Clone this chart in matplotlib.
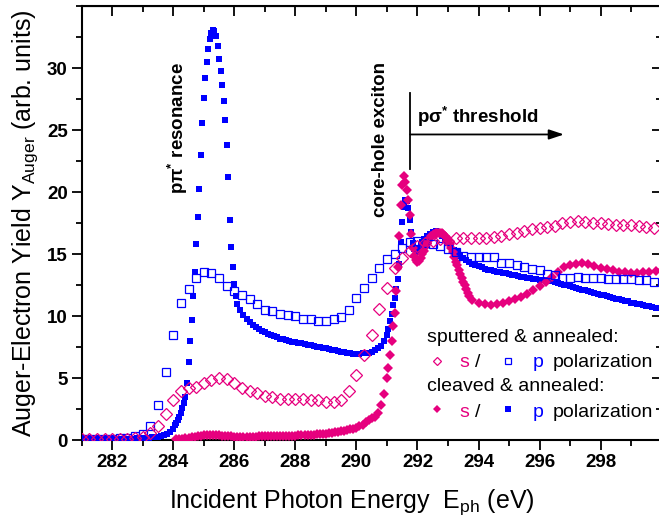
import numpy as np
import matplotlib
matplotlib.use('Agg')
import matplotlib.pyplot as plt
from matplotlib.ticker import MultipleLocator

plt.rcParams['font.family'] = ['Liberation Sans', 'DejaVu Sans']
plt.rcParams['mathtext.fontset'] = 'custom'
plt.rcParams['mathtext.rm'] = 'Liberation Sans'
plt.rcParams['mathtext.bf'] = 'Liberation Sans:bold'
plt.rcParams['mathtext.default'] = 'regular'

BLUE = '#0000FF'
PINK = '#E6007E'

x_ticks = [282, 284, 286, 288, 290, 292, 294, 296, 298]
y_ticks = [0, 5, 10, 15, 20, 25, 30]

# sputtered & annealed (open symbols), 0.25 eV grid
open_x = np.arange(281.0, 299.8, 0.25)
s_sputtered = [0.1, 0.1, 0.1, 0.1, 0.1, 0.1, 0.1, 0.15,
               0.25, 0.55, 1.1, 2.1, 3.2, 4.0, 4.2, 4.3,
               4.6, 4.85, 5.0, 4.9, 4.65, 4.2, 3.95, 3.8,
               3.55, 3.45, 3.3, 3.3, 3.3, 3.3, 3.25, 3.2,
               3.1, 3.1, 3.2, 4.0, 5.25, 6.9, 8.5, 10.6,
               12.3, 13.9, 14.7, 15.3, 15.7, 15.9, 16.1, 16.2,
               16.1, 16.3, 16.3, 16.3, 16.3, 16.3, 16.4, 16.5,
               16.6, 16.7, 16.9, 17.0, 17.1, 17.2, 17.3, 17.5,
               17.6, 17.65, 17.6, 17.5, 17.5, 17.45, 17.4, 17.4,
               17.4, 17.3, 17.2, 17.1]
p_sputtered = [0.1, 0.1, 0.1, 0.1, 0.12, 0.15, 0.2, 0.3,
               0.5, 1.1, 2.8, 5.5, 8.5, 11.1, 12.2, 13.1,
               13.6, 13.5, 13.1, 12.4, 12.05, 11.75, 11.35, 11.0,
               10.5, 10.4, 10.2, 10.1, 10.0, 9.75, 9.8, 9.6,
               9.6, 9.75, 9.95, 10.5, 11.5, 12.3, 13.05, 13.9,
               14.6, 15.0, 15.5, 16.0, 16.1, 15.95, 15.8, 15.65,
               15.4, 15.2, 14.9, 14.8, 14.75, 14.75, 14.75, 14.3,
               14.3, 14.1, 13.95, 13.85, 13.7, 13.4, 13.35, 13.1,
               13.1, 13.2, 13.1, 13.05, 13.05, 13.0, 13.0, 13.0,
               13.0, 12.95, 12.9, 12.8]

# cleaved & annealed, p polarization (filled squares)
p_cleaved_x = np.concatenate([np.arange(281.0, 284.01, 0.1),
                              np.arange(284.05, 286.11, 0.05),
                              np.arange(286.2, 291.01, 0.1),
                              np.arange(291.05, 292.21, 0.05),
                              np.arange(292.3, 300.01, 0.1)])
p_cleaved = [0.05, 0.05, 0.05, 0.05, 0.05, 0.06, 0.06, 0.06, 0.07, 0.07,
             0.08, 0.08, 0.09, 0.10, 0.10, 0.11, 0.12, 0.13, 0.14, 0.15,
             0.17, 0.19, 0.21, 0.23, 0.26, 0.29, 0.33, 0.40, 0.50, 0.65,
             0.90,
             1.2, 1.4, 1.65, 1.9, 2.2, 2.6, 3.0, 3.5, 4.6, 6.3,
             8.0, 9.7, 11.6, 13.6, 15.8, 18.0, 20.3, 23.0, 25.6, 27.6,
             29.2, 30.5, 31.6, 32.4, 32.9, 33.1, 33.0, 32.6, 31.8, 30.8,
             29.8, 28.7, 27.4, 25.8, 23.8, 21.2, 17.8, 15.6, 14.0, 12.6,
             11.6, 11.0,
             10.5, 10.1, 9.75, 9.5, 9.3, 9.1, 8.95, 8.8, 8.7, 8.6,
             8.5, 8.4, 8.3, 8.2, 8.15, 8.05, 8.0, 7.95, 7.9, 7.85,
             7.8, 7.75, 7.7, 7.65, 7.6, 7.55, 7.5, 7.45, 7.4, 7.35,
             7.3, 7.25, 7.2, 7.15, 7.1, 7.05, 7.0, 6.95, 6.95, 6.95,
             7.0, 7.0, 7.05, 7.15, 7.3, 7.45, 7.6, 8.0, 8.5,
             9.0, 9.6, 10.2, 10.9, 11.5, 12.2, 13.0, 14.2, 16.0, 17.6,
             18.8, 19.4, 19.3, 18.7, 17.8, 16.8, 15.9, 15.4, 15.2, 15.25,
             15.5, 15.75, 16.0, 16.2,
             16.45, 16.65, 16.8, 16.85, 16.7, 16.5, 16.2, 15.9, 15.6, 15.35,
             15.15, 14.9, 14.7, 14.5, 14.4, 14.25, 14.15, 14.05, 13.95, 13.85,
             13.75, 13.7, 13.65, 13.6, 13.55, 13.5, 13.45, 13.4, 13.35, 13.3,
             13.25, 13.2, 13.15, 13.1, 13.05, 13.0, 13.0, 12.95, 12.9, 12.9,
             12.85, 12.85, 12.8, 12.7, 12.6, 12.55, 12.5, 12.4, 12.35, 12.3,
             12.2, 12.15, 12.1, 12.0, 11.95, 11.9, 11.8, 11.75, 11.7, 11.6,
             11.55, 11.5, 11.4, 11.35, 11.3, 11.25, 11.2, 11.1, 11.05, 11.0,
             10.95, 10.9, 10.85, 10.8, 10.75, 10.7, 10.65, 10.6]

# cleaved & annealed, s polarization (filled diamonds)
s_cleaved_x = np.concatenate([np.arange(284.1, 290.91, 0.1),
                              np.arange(291.0, 292.01, 0.05),
                              np.arange(292.05, 293.71, 0.05),
                              np.arange(293.8, 300.01, 0.2)])
s_cleaved = [0.05, 0.08, 0.12, 0.16, 0.2, 0.24, 0.28, 0.32, 0.36, 0.4,
             0.43, 0.45, 0.45, 0.43, 0.4, 0.37, 0.34, 0.32, 0.3, 0.29,
             0.28, 0.28, 0.28, 0.28, 0.28, 0.29, 0.29, 0.3, 0.3, 0.31,
             0.31, 0.32, 0.32, 0.33, 0.33, 0.34, 0.35, 0.35, 0.36, 0.37,
             0.38, 0.39, 0.4, 0.42, 0.43, 0.45, 0.47, 0.49, 0.51, 0.53,
             0.56, 0.59, 0.62, 0.66, 0.7, 0.75, 0.8, 0.86, 0.92, 1.0,
             1.1, 1.2, 1.45, 1.6, 1.75, 1.9, 2.2, 2.8, 3.7,
             5.0, 5.8, 6.9, 8.0, 9.2, 10.3, 12.0, 14.0, 16.5, 19.0,
             20.6, 21.3, 20.8, 20.2, 19.4, 18.2, 16.6, 15.5, 14.9, 14.5,
             14.4,
             14.45, 14.7, 15.0, 15.3, 15.6, 15.9, 16.1, 16.3, 16.45, 16.55,
             16.6, 16.7, 16.7, 16.7, 16.7, 16.7, 16.6, 16.5, 16.4, 16.1,
             15.8, 15.5, 15.2, 14.8, 14.4, 14.1, 13.7, 13.4, 13.1, 12.8,
             12.5, 12.2, 11.9, 11.6,
             11.3, 11.05, 10.95, 10.9, 10.95, 11.05, 11.2, 11.35, 11.55, 11.8,
             12.1, 12.45, 12.8, 13.2, 13.6, 13.95, 14.15, 14.25, 14.3, 14.2,
             14.05, 13.9, 13.8, 13.7, 13.6, 13.55, 13.5, 13.5, 13.55, 13.6,
             13.65, 13.7]

fig = plt.figure(figsize=(6.59, 5.19), dpi=100)
ax = fig.add_axes([0.124, 0.152, 0.880, 0.8355])

ax.plot(p_cleaved_x[:len(p_cleaved)], p_cleaved, ls='none', marker='s', ms=5.0,
        mfc=BLUE, mec=BLUE, mew=0, zorder=3)
ax.plot(s_cleaved_x[:len(s_cleaved)], s_cleaved, ls='none', marker='D', ms=4.8,
        mfc=PINK, mec=PINK, mew=0, zorder=4)
ax.plot(open_x, p_sputtered, ls='none', marker='s', ms=6.0, mfc='none',
        mec=BLUE, mew=0.9, zorder=5)
ax.plot(open_x, s_sputtered, ls='none', marker='D', ms=5.8, mfc='none',
        mec=PINK, mew=0.9, zorder=6)

ax.set_xlim(281, 300)
ax.set_ylim(0, 35)
ax.set_xticks(x_ticks)
ax.set_yticks(y_ticks)
ax.xaxis.set_minor_locator(MultipleLocator(1))
ax.yaxis.set_minor_locator(MultipleLocator(2.5))
ax.tick_params(which='both', direction='out', width=1.3, labelsize=13.5, pad=3)
ax.tick_params(which='major', length=7)
ax.tick_params(which='minor', length=4)
for lab in ax.get_xticklabels() + ax.get_yticklabels():
    lab.set_fontweight('bold')
for sp in ax.spines.values():
    sp.set_linewidth(1.5)

top = ax.secondary_xaxis('top')
top.set_xticks(x_ticks)
top.xaxis.set_minor_locator(MultipleLocator(1))
top.tick_params(which='both', direction='in', width=1.3, labeltop=False)
top.tick_params(which='major', length=7)
top.tick_params(which='minor', length=4)
right = ax.secondary_yaxis('right')
right.set_yticks(y_ticks)
right.yaxis.set_minor_locator(MultipleLocator(2.5))
right.tick_params(which='both', direction='in', width=1.3, labelright=False)
right.tick_params(which='major', length=7)
right.tick_params(which='minor', length=4)

ax.set_xlabel(r'Incident Photon Energy  E$_{ph}$ (eV)', fontsize=18)
ax.set_ylabel(r'Auger-Electron Yield Y$_{Auger}$ (arb. units)', fontsize=18)
ax.xaxis.set_label_coords(0.466, -0.108)
ax.yaxis.set_label_coords(-0.072, 0.5)

# annotations
ax.text(284.15, 30.5, r'p$\pi^{*}$ resonance', rotation=90, ha='center', va='top',
        fontsize=13.5, fontweight='bold')
ax.text(290.8, 30.5, 'core-hole exciton', rotation=90, ha='center', va='top',
        fontsize=13.5, fontweight='bold')
ax.text(291.98, 25.6, r'p$\sigma^{*}$ threshold', ha='left', va='baseline',
        fontsize=13.5, fontweight='bold')
ax.plot([291.76, 291.76], [21.85, 28.0], color='black', lw=1.3)
ax.annotate('', xy=(296.8, 24.67), xytext=(291.76, 24.67),
            arrowprops=dict(arrowstyle='-|>,head_length=0.6,head_width=0.2',
                            color='black', lw=1.3, shrinkA=0, shrinkB=0,
                            mutation_scale=15))

# hand-made legend
tr = ax.transAxes
ax.text(0.595, 0.2267, 'sputtered & annealed:', transform=tr, fontsize=14, va='baseline')
ax.text(0.595, 0.1137, 'cleaved & annealed:', transform=tr, fontsize=14, va='baseline')
for yb, ym, filled in [(0.169, 0.182, False), (0.0537, 0.0715, True)]:
    ax.plot([0.6126], [ym], transform=tr, marker='D', ms=3.8 if filled else 4,
            mfc=PINK if filled else 'none', mec=PINK, mew=0 if filled else 0.9,
            ls='none', clip_on=False)
    ax.plot([0.7345], [ym], transform=tr, marker='s', ms=3.8 if filled else 4,
            mfc=BLUE if filled else 'none', mec=BLUE, mew=0 if filled else 0.9,
            ls='none', clip_on=False)
    ax.text(0.652, yb, 's', color=PINK, transform=tr, fontsize=14, va='baseline')
    ax.text(0.678, yb, '/', transform=tr, fontsize=14, va='baseline')
    ax.text(0.777, yb, 'p', color=BLUE, transform=tr, fontsize=14, va='baseline')
    ax.text(0.8126, yb, 'polarization', transform=tr, fontsize=14, va='baseline')

fig.savefig('out.png', dpi=100)
